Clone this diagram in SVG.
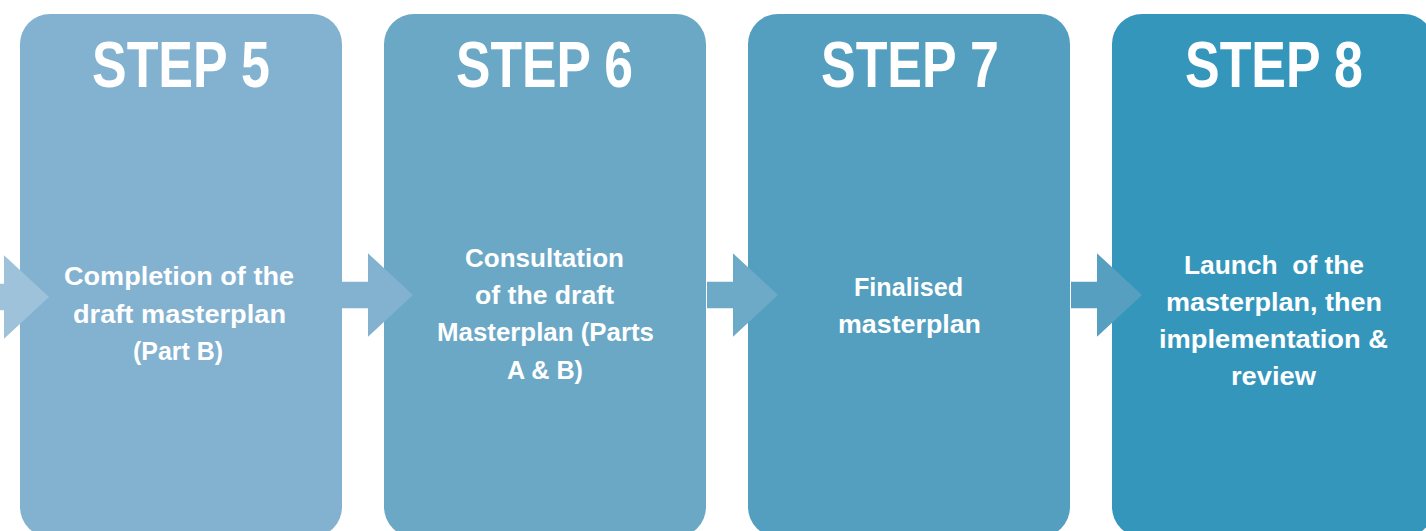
<svg xmlns="http://www.w3.org/2000/svg" width="1426" height="531" viewBox="0 0 1426 531">
<style>
.box{stroke:none}
.step{font-family:"Liberation Sans",Arial,sans-serif;font-weight:bold;font-size:64px;fill:#ffffff;text-anchor:middle}
.body{font-family:"Liberation Sans",Arial,sans-serif;font-weight:bold;font-size:25px;fill:#ffffff;text-anchor:middle}
</style>
<defs>
<path id="arrowShape" d="M0,281.7 H26 V253.3 L71,295 L26,336.7 V308.3 H0 Z"/>
</defs>
<rect width="1426" height="531" fill="#ffffff"/>
<g id="step5">
<rect class="box" x="20" y="14" width="322" height="523" rx="30" fill="#82B2D0"/>
<text class="step" x="181" y="87" textLength="178" lengthAdjust="spacingAndGlyphs">STEP 5</text>
<text class="body" x="179" y="285" textLength="230" lengthAdjust="spacingAndGlyphs">Completion of the</text>
<text class="body" x="179.5" y="322.5" textLength="213" lengthAdjust="spacingAndGlyphs">draft masterplan</text>
<text class="body" x="178" y="360" textLength="90" lengthAdjust="spacingAndGlyphs">(Part B)</text>
</g>
<g id="step6">
<rect class="box" x="384" y="14" width="322" height="523" rx="30" fill="#6BA8C6"/>
<text class="step" x="544.5" y="87" textLength="177" lengthAdjust="spacingAndGlyphs">STEP 6</text>
<text class="body" x="544.5" y="267" textLength="159" lengthAdjust="spacingAndGlyphs">Consultation</text>
<text class="body" x="544.5" y="304" textLength="139" lengthAdjust="spacingAndGlyphs">of the draft</text>
<text class="body" x="545.5" y="341" textLength="217" lengthAdjust="spacingAndGlyphs">Masterplan (Parts</text>
<text class="body" x="545" y="378.5" textLength="76" lengthAdjust="spacingAndGlyphs">A &amp; B)</text>
</g>
<g id="step7">
<rect class="box" x="748" y="14" width="322" height="523" rx="30" fill="#549FC0"/>
<text class="step" x="910" y="87" textLength="178" lengthAdjust="spacingAndGlyphs">STEP 7</text>
<text class="body" x="908.5" y="296" textLength="109" lengthAdjust="spacingAndGlyphs">Finalised</text>
<text class="body" x="909.5" y="333" textLength="143" lengthAdjust="spacingAndGlyphs">masterplan</text>
</g>
<g id="step8">
<rect class="box" x="1112" y="14" width="322" height="523" rx="30" fill="#3596BC"/>
<text class="step" x="1274" y="87" textLength="178" lengthAdjust="spacingAndGlyphs">STEP 8</text>
<text class="body" x="1274" y="274" textLength="180" lengthAdjust="spacingAndGlyphs" xml:space="preserve">Launch  of the</text>
<text class="body" x="1274" y="311" textLength="216" lengthAdjust="spacingAndGlyphs">masterplan, then</text>
<text class="body" x="1273.5" y="348" textLength="229" lengthAdjust="spacingAndGlyphs">implementation &amp;</text>
<text class="body" x="1273.5" y="385" textLength="85" lengthAdjust="spacingAndGlyphs">review</text>
</g>
<g id="connectors">
<use href="#arrowShape" transform="translate(-22,2)" fill="#9EC2DA"/>
<use href="#arrowShape" transform="translate(342,0)" fill="#82B2D0"/>
<use href="#arrowShape" transform="translate(707,0)" fill="#6DAAC8"/>
<use href="#arrowShape" transform="translate(1071,0)" fill="#569FC1"/>
</g>
</svg>
